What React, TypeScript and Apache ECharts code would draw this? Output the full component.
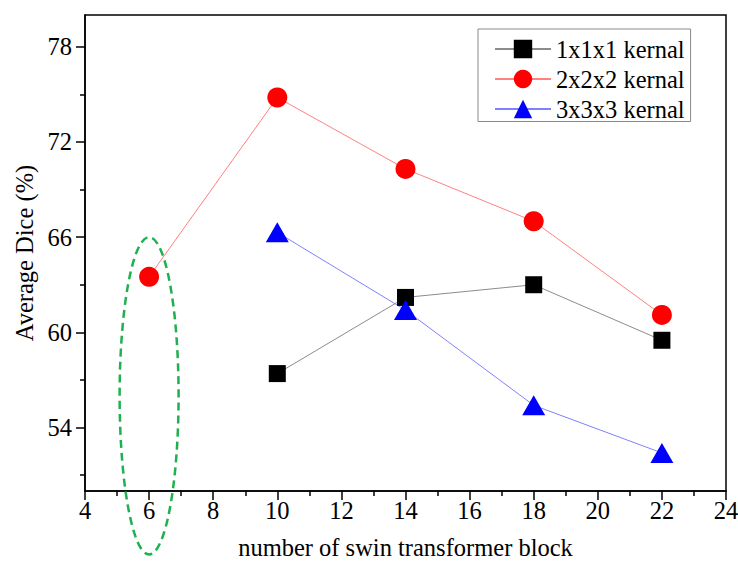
import React, { useEffect, useRef } from 'react';
import * as echarts from 'echarts';

const blocks = [6, 10, 14, 18, 22];
const kernel1 = [null, 57.4, 62.2, 63.0, 59.5];
const kernel2 = [63.5, 74.8, 70.3, 67.0, 61.1];
const kernel3 = [null, 66.3, 61.4, 55.4, 52.4];
const seriesNames = ['1x1x1 kernal', '2x2x2 kernal', '3x3x3 kernal'];
const xTitle = 'number of swin transformer block';
const yTitle = 'Average Dice (%)';
const yTickValues = [54, 60, 66, 72, 78];
const yMinorTickValues = [51, 57, 63, 69, 75];
// highlighted region (dashed ellipse) in data units
const ellipseCenter = [6, 56];
const ellipseRadius = [0.92, 10];

const FONT = 'Liberation Serif';
const FS = 24.5;

function pairs(values: (number | null)[]) {
  const out: [number, number][] = [];
  values.forEach((v, i) => {
    if (v !== null) out.push([blocks[i], v]);
  });
  return out;
}

export default function App() {
  const ref = useRef<HTMLDivElement>(null);
  useEffect(() => {
    document.body.style.margin = '0';
    const chart = echarts.init(ref.current!, null, { renderer: 'svg' });
    const axisLine = { show: true, onZero: false, lineStyle: { color: '#000', width: 1.5 } };
    const labelStyle = { fontSize: FS, fontFamily: FONT, color: '#000', fontStyle: 'normal', fontWeight: 'normal' };
    chart.setOption({
      animation: false,
      backgroundColor: '#fff',
      textStyle: { fontFamily: FONT, fontSize: FS, color: '#000' },
      grid: {
        left: 85, right: 12, top: 15, bottom: 75,
        show: true, borderColor: '#000', borderWidth: 1.5,
        containLabel: false, outerBoundsMode: 'none',
      },
      legend: {
        orient: 'vertical', left: 478, top: 29,
        padding: [7.5, 6, 0, 16], itemGap: 5,
        itemWidth: 56, itemHeight: 23,
        borderColor: '#8a8a8a', borderWidth: 1, backgroundColor: '#fff',
        textStyle: { fontSize: FS, fontFamily: FONT, color: '#000' },
        data: seriesNames,
      },
      xAxis: {
        type: 'value', min: 4, max: 24, interval: 2,
        name: xTitle, nameLocation: 'middle', nameGap: 44,
        nameTextStyle: { fontSize: FS, fontFamily: FONT, color: '#000' },
        axisLine,
        axisTick: { show: true, length: 9, lineStyle: { color: '#000', width: 1.5 } },
        minorTick: { show: true, splitNumber: 2, length: 5, lineStyle: { color: '#000', width: 1.5 } },
        axisLabel: { ...labelStyle, margin: 7 },
        splitLine: { show: false },
      },
      yAxis: [
        {
          type: 'value', min: 50, max: 80, position: 'left',
          name: yTitle, nameLocation: 'middle', nameGap: 44,
          nameTextStyle: { fontSize: FS, fontFamily: FONT, color: '#000' },
          axisLine,
          axisTick: { show: true, length: 9, customValues: yTickValues, lineStyle: { color: '#000', width: 1.5 } },
          axisLabel: { ...labelStyle, margin: 13, customValues: yTickValues },
          splitLine: { show: false },
        },
        {
          type: 'value', min: 50, max: 80, position: 'left', offset: 0,
          axisLine: { show: false, onZero: false },
          axisTick: { show: true, length: 5, customValues: yMinorTickValues, lineStyle: { color: '#000', width: 1.5 } },
          axisLabel: { show: false },
          splitLine: { show: false },
        },
      ],
      series: [
        {
          name: seriesNames[0], type: 'line', data: pairs(kernel1),
          symbol: 'rect', symbolSize: 17,
          itemStyle: { color: '#000' }, lineStyle: { color: '#8c8c8c', width: 1 },
        },
        {
          name: seriesNames[1], type: 'line', data: pairs(kernel2),
          symbol: 'circle', symbolSize: 20,
          itemStyle: { color: '#ff0000' }, lineStyle: { color: '#ff8080', width: 1 },
        },
        {
          name: seriesNames[2], type: 'line', data: pairs(kernel3),
          symbol: 'triangle', symbolSize: [23, 20],
          itemStyle: { color: '#0000ff' }, lineStyle: { color: '#8080ff', width: 1 },
        },
      ],
    });
    const c = chart.convertToPixel({ seriesIndex: 1 }, ellipseCenter) as number[];
    const e = chart.convertToPixel({ seriesIndex: 1 }, [
      ellipseCenter[0] + ellipseRadius[0],
      ellipseCenter[1] + ellipseRadius[1],
    ]) as number[];
    chart.setOption({
      graphic: [
        {
          type: 'ellipse', z: 100,
          shape: { cx: c[0], cy: c[1], rx: Math.abs(e[0] - c[0]), ry: Math.abs(c[1] - e[1]) },
          style: { fill: 'none', stroke: '#1fb04f', lineWidth: 2.5, lineDash: [8, 5] },
        },
      ],
    });
    return () => chart.dispose();
  }, []);
  return <div ref={ref} style={{ width: 738, height: 566 }} />;
}
